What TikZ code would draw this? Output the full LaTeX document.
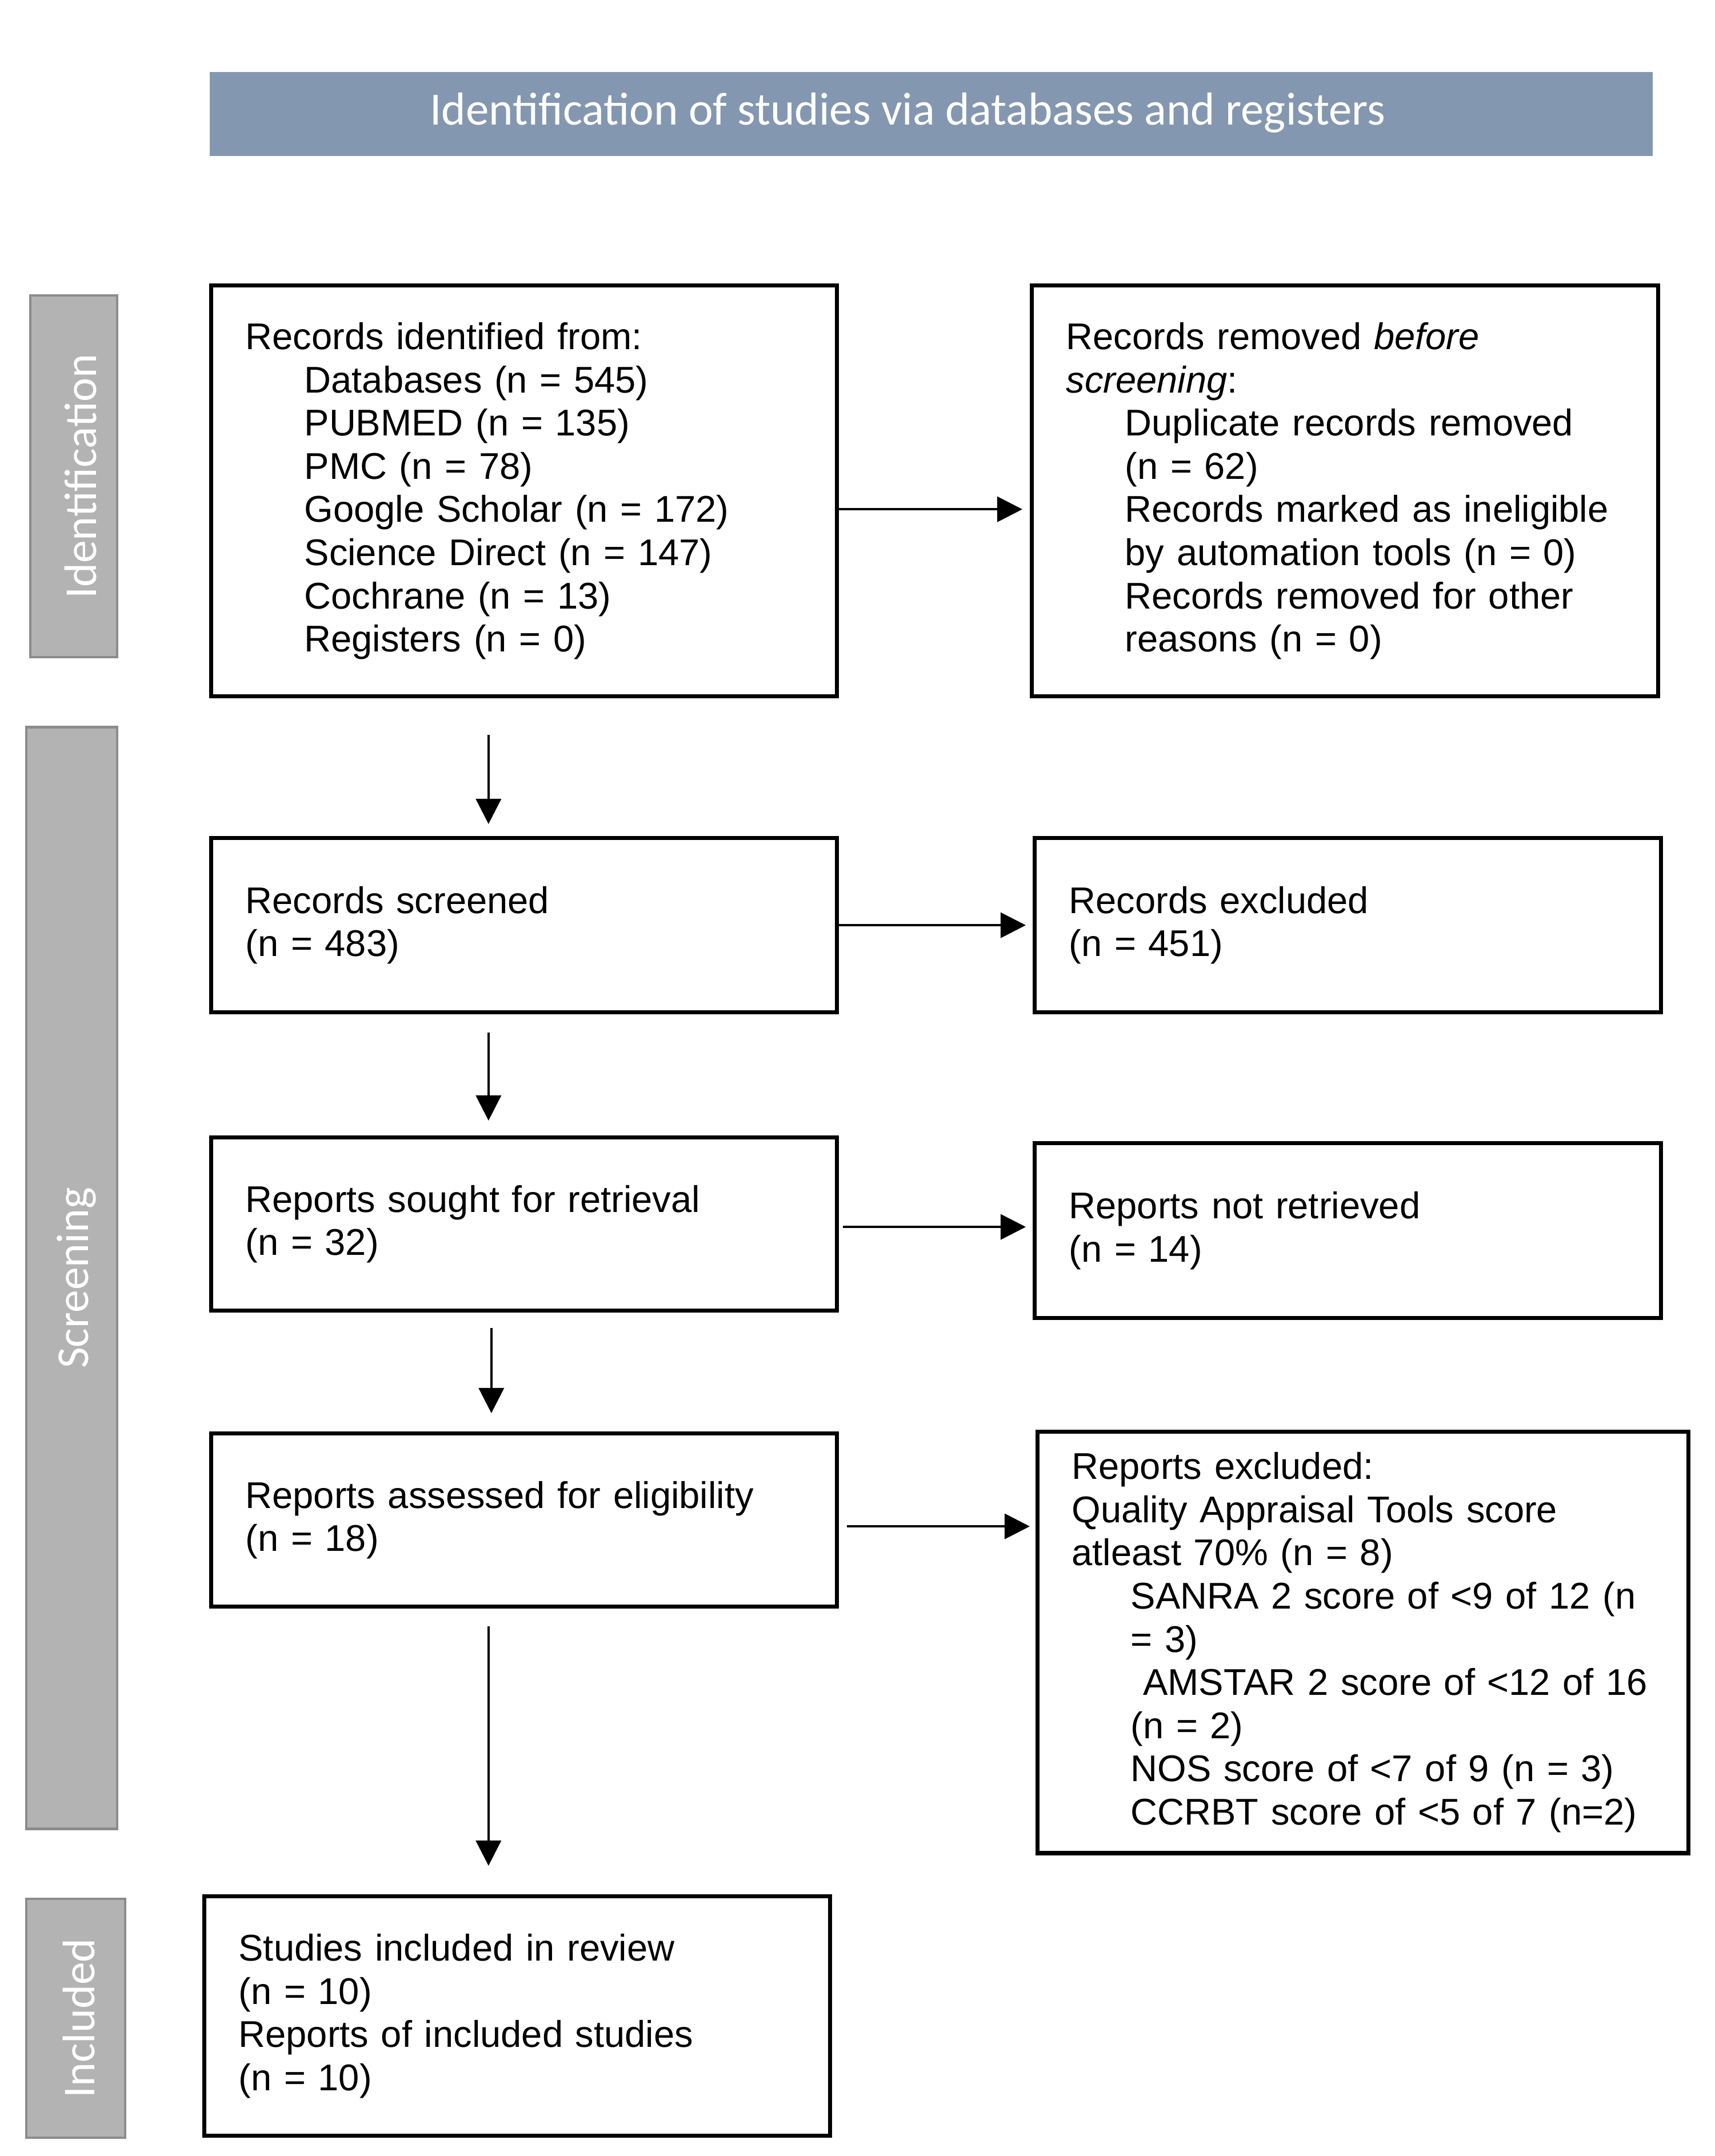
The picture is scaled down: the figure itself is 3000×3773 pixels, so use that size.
\documentclass[tikz,border=0pt]{standalone}
\usepackage{fontspec}
\setmainfont{Liberation Sans}
\newfontfamily\calibri{Carlito}
\usepackage{tikz}
\usetikzlibrary{arrows.meta}

\definecolor{hdrblue}{HTML}{8497B0}
\definecolor{barfill}{HTML}{B3B3B3}
\definecolor{barline}{HTML}{8C8C8C}
\newcommand{\indt}{\hspace*{1.03cm}}

\begin{document}
\begin{tikzpicture}[x=0.01cm,y=-0.01cm,
    box/.style={draw, line width=2pt, anchor=north west, align=left,
      inner xsep=0.6cm, inner ysep=0pt, font=\fontsize{18.5}{21.5}\selectfont},
    bar/.style={draw=barline, fill=barfill, line width=1.2pt, rotate=90},
    bartext/.style={rotate=90, text=white, font=\calibri\fontsize{22.7}{26}\selectfont},
    arr/.style={-{Triangle[length=0.44cm,width=0.44cm]}, line width=1.1pt}]
    \useasboundingbox (0,0) rectangle (3000,3773);

    % header
    \node[fill=hdrblue, anchor=north west, minimum width=25.24cm, minimum height=1.47cm] (head) at (366,125) {};
    \node[text=white, font=\calibri\fontsize{23}{28}\selectfont] (headtext) at ([xshift=-0.41cm,yshift=0.02cm]head.center)
      {Identification of studies via databases and registers};

    % side bars
    \node[bar, minimum width=6.33cm, minimum height=1.52cm] (idbar) at (129,833.5) {};
    \node[bartext] (idtext) at ([xshift=0.12cm]idbar.center) {Identification};
    \node[bar, minimum width=19.27cm, minimum height=1.59cm] (scbar) at (125.5,2236.5) {};
    \node[bartext] (sctext) at ([xshift=0.08cm]scbar.center) {Screening};
    \node[bar, minimum width=4.18cm, minimum height=1.73cm] (inbar) at (132.5,3532) {};
    \node[bartext] (intext) at ([xshift=0.06cm]inbar.center) {Included};

    % left column
    \node[box, text width=9.74cm, minimum height=7.19cm] (rec) at (366,496)
      {Records identified from:\\
       \indt Databases (n = 545)\\
       \indt PUBMED (n = 135)\\
       \indt PMC (n = 78)\\
       \indt Google Scholar (n = 172)\\
       \indt Science Direct (n = 147)\\
       \indt Cochrane (n = 13)\\
       \indt Registers (n = 0)};
    \node[box, text width=9.74cm, minimum height=3.05cm] (screened) at (366,1463)
      {Records screened\\(n = 483)};
    \node[box, text width=9.74cm, minimum height=3.03cm] (sought) at (366,1987)
      {Reports sought for retrieval\\(n = 32)};
    \node[box, text width=9.74cm, minimum height=3.03cm] (assessed) at (366,2505)
      {Reports assessed for eligibility\\(n = 18)};
    \node[box, text width=9.74cm, minimum height=4.19cm] (included) at (354,3315)
      {Studies included in review\\(n = 10)\\Reports of included studies\\(n = 10)};

    % right column
    \node[box, text width=9.75cm, minimum height=7.19cm] (removed) at (1802,496)
      {Records removed \textit{before}\\
       \textit{screening}:\\
       \indt Duplicate records removed\\
       \indt (n = 62)\\
       \indt Records marked as ineligible\\
       \indt by automation tools (n = 0)\\
       \indt Records removed for other\\
       \indt reasons (n = 0)};
    \node[box, text width=9.75cm, minimum height=3.05cm] (excluded) at (1807,1463)
      {Records excluded\\(n = 451)};
    \node[box, text width=9.75cm, minimum height=3.06cm] (notret) at (1807,1997)
      {Reports not retrieved\\(n = 14)};
    \node[box, text width=10.18cm, minimum height=7.37cm] (repexcl) at (1812,2502)
      {Reports excluded:\\
       Quality Appraisal Tools score\\
       atleast 70\% (n = 8)\\
       \indt SANRA 2 score of <9 of 12 (n\\
       \indt = 3)\\
       \indt\ AMSTAR 2 score of <12 of 16\\
       \indt (n = 2)\\
       \indt NOS score of <7 of 9 (n = 3)\\
       \indt CCRBT score of <5 of 7 (n=2)};

    % arrows down
    \draw[arr, shorten <=0.64cm, shorten >=0.21cm] ([xshift=-0.62cm]rec.south) -- ([xshift=-0.62cm]rec.south |- screened.north);
    \draw[arr, shorten <=0.32cm, shorten >=0.26cm] ([xshift=-0.62cm]screened.south) -- ([xshift=-0.62cm]screened.south |- sought.north);
    \draw[arr, shorten <=0.27cm, shorten >=0.32cm] ([xshift=-0.57cm]sought.south) -- ([xshift=-0.57cm]sought.south |- assessed.north);
    \draw[arr, shorten <=0.31cm, shorten >=0.50cm] ([xshift=-0.62cm]assessed.south) -- ([xshift=-0.62cm]assessed.south |- included.north);

    % arrows across
    \draw[arr, shorten >=0.13cm] ([yshift=-0.32cm]rec.east) -- ([yshift=-0.32cm]rec.east -| removed.west);
    \draw[arr, shorten >=0.12cm] (screened.east) -- (screened.east -| excluded.west);
    \draw[arr, shorten <=0.07cm, shorten >=0.12cm] ([yshift=-0.05cm]sought.east) -- ([yshift=-0.05cm]sought.east -| notret.west);
    \draw[arr, shorten <=0.14cm, shorten >=0.10cm] ([yshift=-0.11cm]assessed.east) -- ([yshift=-0.11cm]assessed.east -| repexcl.west);
\end{tikzpicture}
\end{document}
